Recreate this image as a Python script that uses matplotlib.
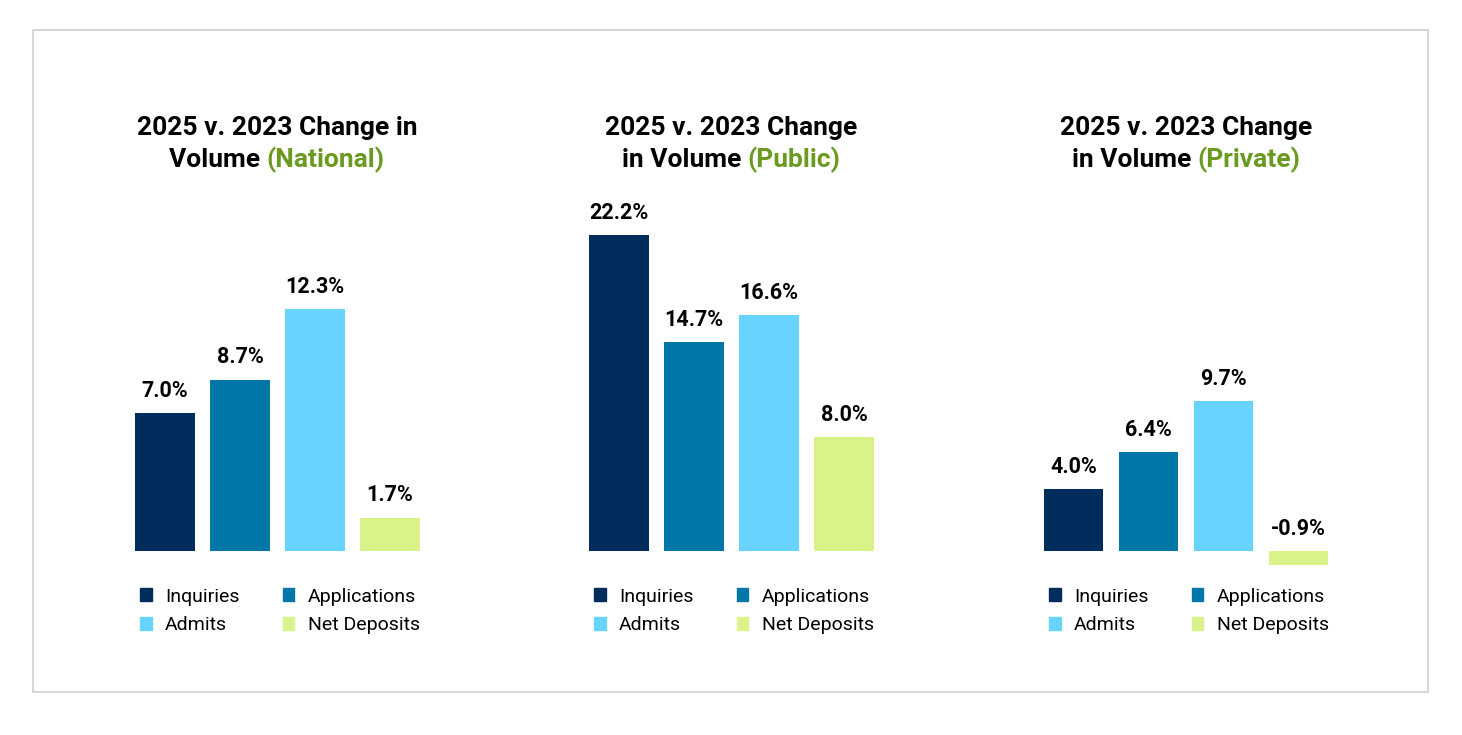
import matplotlib
matplotlib.use("Agg")
import matplotlib.pyplot as plt
from matplotlib.patches import Rectangle, Patch

categories = ["Inquiries", "Applications", "Admits", "Net Deposits"]
national = [7.0, 8.7, 12.3, 1.7]
public = [22.2, 14.7, 16.6, 8.0]
private = [4.0, 6.4, 9.7, -0.9]
titles = [("2025 v. 2023 Change in", "Volume", "(National)"),
          ("2025 v. 2023 Change", "in Volume", "(Public)"),
          ("2025 v. 2023 Change", "in Volume", "(Private)")]
colors = ["#002D5C", "#0077A8", "#66D4FF", "#D9F28A"]
green = "#6A9A1F"
plt.rcParams['font.family'] = ['Roboto', 'DejaVu Sans']

W, H = 1462, 735
fig = plt.figure(figsize=(W/100, H/100), dpi=100)
fig.patches.append(Rectangle((33/W, 1-692/H), (1428-33)/W, (692-30)/H, transform=fig.transFigure,
                             fill=False, edgecolor="#D0D0D0", lw=1.2))

panels = [(national, 127.5, 19.7, 277), (public, 581.5, 14.23, 731), (private, 1036, 15.5, 1186)]
top_px, bot_px, base = 200, 600, 551
renderer = fig.canvas.get_renderer()
for i, (vals, x0, s, cx) in enumerate(panels):
    ax = fig.add_axes([x0/W, 1-bot_px/H, 300/W, (bot_px-top_px)/H])
    ax.bar(range(4), vals, width=0.79, color=colors)
    ax.set_xlim(-0.5, 3.5)
    ax.set_ylim(-(bot_px-base)/s, (base-top_px)/s)
    ax.axis("off")
    for j, v in enumerate(vals):
        y = max(v, 0)
        ax.annotate(f"{v:.1f}%", (j, y), xytext=(0, 8), textcoords="offset points",
                    ha="center", va="bottom", fontsize=15.5, fontweight="bold")
    handles = [Patch(color=colors[k]) for k in (0, 2, 1, 3)]
    labels = [categories[k] for k in (0, 2, 1, 3)]
    fig.legend(handles, labels, ncol=2, loc="upper center", bbox_to_anchor=(cx/W+0.002, 1-570/H),
               frameon=False, fontsize=14, handlelength=0.6, handleheight=0.6,
               columnspacing=2.2, handletextpad=0.7, labelspacing=0.55)
    l1, l2a, l2b = titles[i]
    fig.text(cx/W, 1-128/H, l1, ha="center", va="center", fontsize=19, fontweight="bold")
    ta = fig.text(0, 1-160/H, l2a + " ", ha="left", va="center", fontsize=19, fontweight="bold")
    tb = fig.text(0, 1-160/H, l2b, ha="left", va="center", fontsize=19, fontweight="bold", color=green)
    wa = ta.get_window_extent(renderer).width
    wb = tb.get_window_extent(renderer).width
    start = cx - (wa + wb)/2
    ta.set_x(start/W)
    tb.set_x((start + wa)/W)

fig.savefig("out.png", dpi=100, facecolor="white")
